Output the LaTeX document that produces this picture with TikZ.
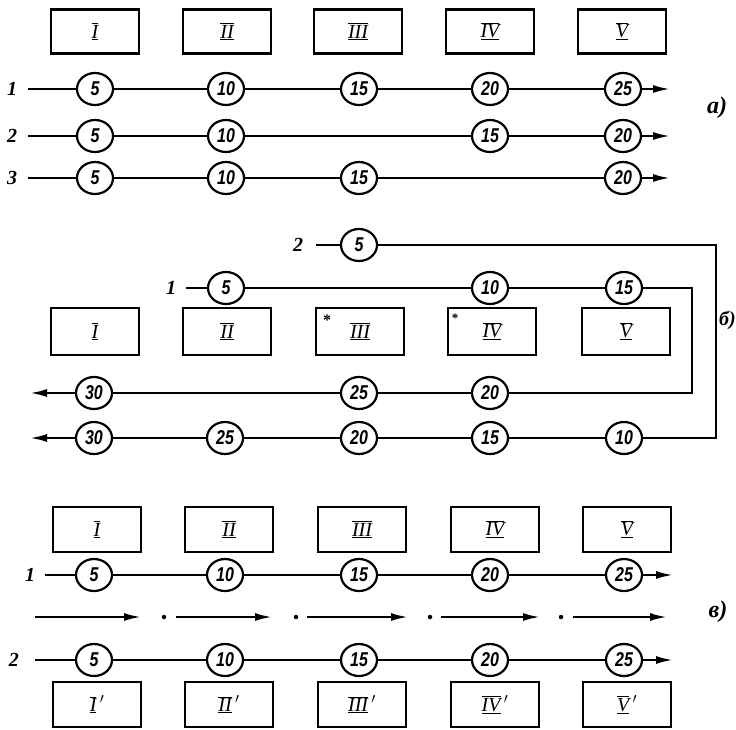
\documentclass[tikz,border=0pt]{standalone}
\usepackage{fontspec}
\setmainfont{Liberation Serif}
\newfontfamily\digfont{Liberation Sans}
\usetikzlibrary{arrows.meta,shapes.geometric}
\newcommand\rnum[1]{\fontsize{20}{20}\selectfont$\overline{\underline{\mbox{\itshape #1}}}$}
\newcommand\cnum[1]{\scalebox{0.8}[1]{\digfont\bfseries\itshape\fontsize{20}{20}\selectfont #1}}
\tikzset{
  rbox/.style={draw, line width=2.2pt, minimum width=88pt, minimum height=44pt, inner sep=0pt},
  cn/.style={ellipse, draw, line width=2.2pt, minimum width=36pt, minimum height=32pt, inner sep=0pt, fill=white},
  ln/.style={line width=2.2pt},
  arr/.style={-{Latex[length=17pt,width=8pt]}},
  lab/.style={font=\fontsize{20}{20}\selectfont\bfseries\itshape, inner sep=0pt},
  side/.style={font=\fontsize{24}{24}\selectfont\bfseries\itshape, inner sep=0pt},
  dotn/.style={circle, fill, minimum size=4.5pt, inner sep=0pt},
}
\begin{document}
\begin{tikzpicture}[x=1pt,y=-1pt]
\useasboundingbox (0,0) rectangle (736,729);
% ================= a) =================
\foreach \x/\t [count=\i] in {95/I,227/II,358/III,490/IV,622/V}
  \node[rbox] (aB\i) at (\x,31.5) {\rnum{\t}};
% row 1
\node[lab] (a1l) at (12,89) {1};
\coordinate (a1s) at (28,89);
\node[cn] (a1c1) at (95,89) {\cnum{5}};
\node[cn] (a1c2) at (226,89) {\cnum{10}};
\node[cn] (a1c3) at (359,89) {\cnum{15}};
\node[cn] (a1c4) at (490,89) {\cnum{20}};
\node[cn] (a1c5) at (623,89) {\cnum{25}};
\coordinate (a1e) at (670,89);
\draw[ln] (a1s) -- (a1c1) -- (a1c2) -- (a1c3) -- (a1c4) -- (a1c5);
\draw[ln,arr] (a1c5) -- (a1e);
% row 2
\node[lab] (a2l) at (12,136) {2};
\coordinate (a2s) at (28,136);
\node[cn] (a2c1) at (95,136) {\cnum{5}};
\node[cn] (a2c2) at (226,136) {\cnum{10}};
\node[cn] (a2c3) at (490,136) {\cnum{15}};
\node[cn] (a2c4) at (623,136) {\cnum{20}};
\coordinate (a2e) at (670,136);
\draw[ln] (a2s) -- (a2c1) -- (a2c2) -- (a2c3) -- (a2c4);
\draw[ln,arr] (a2c4) -- (a2e);
% row 3
\node[lab] (a3l) at (12,178) {3};
\coordinate (a3s) at (28,178);
\node[cn] (a3c1) at (95,178) {\cnum{5}};
\node[cn] (a3c2) at (226,178) {\cnum{10}};
\node[cn] (a3c3) at (359,178) {\cnum{15}};
\node[cn] (a3c4) at (623,178) {\cnum{20}};
\coordinate (a3e) at (670,178);
\draw[ln] (a3s) -- (a3c1) -- (a3c2) -- (a3c3) -- (a3c4);
\draw[ln,arr] (a3c4) -- (a3e);
\node[side] (sa) at (717,108) {а)};
% ================= b) =================
\node[rbox, minimum height=47pt] (bB1) at (95,331.5) {\rnum{I}};
\node[rbox, minimum height=47pt] (bB2) at (227,331.5) {\rnum{II}};
\node[rbox, minimum height=47pt] (bB3) at (360,331.5) {\rnum{III}};
\node[rbox, minimum height=47pt] (bB4) at (492,331.5) {\rnum{IV}};
\node[rbox, minimum height=47pt] (bB5) at (626,331.5) {\rnum{V}};
\node[font=\bfseries\fontsize{16}{16}\selectfont, inner sep=0pt] (st3) at (327,320) {*};
\node[font=\bfseries\fontsize{13}{13}\selectfont, inner sep=0pt] (st4) at (455,318) {*};
% line 2 (outer)
\node[lab] (b2l) at (298,245) {2};
\coordinate (b2s) at (316,245);
\node[cn] (b2c1) at (359,245) {\cnum{5}};
\coordinate (b2k1) at (716,245);
\coordinate (b2k2) at (716,438);
\node[cn] (b2r1) at (624,438) {\cnum{10}};
\node[cn] (b2r2) at (490,438) {\cnum{15}};
\node[cn] (b2r3) at (359,438) {\cnum{20}};
\node[cn] (b2r4) at (225,438) {\cnum{25}};
\node[cn] (b2r5) at (94,438) {\cnum{30}};
\coordinate (b2e) at (30,438);
\draw[ln] (b2s) -- (b2c1);
\draw[ln] (b2c1) -- (b2k1) -- (b2k2) -- (b2r1);
\draw[ln] (b2r1) -- (b2r2) -- (b2r3) -- (b2r4) -- (b2r5);
\draw[ln,arr] (b2r5) -- (b2e);
% line 1 (inner)
\node[lab] (b1l) at (171,288) {1};
\coordinate (b1s) at (186,288);
\node[cn] (b1c1) at (226,288) {\cnum{5}};
\node[cn] (b1c2) at (490,288) {\cnum{10}};
\node[cn] (b1c3) at (624,288) {\cnum{15}};
\coordinate (b1k1) at (692,288);
\coordinate (b1k2) at (692,393);
\node[cn] (b1r1) at (490,393) {\cnum{20}};
\node[cn] (b1r2) at (359,393) {\cnum{25}};
\node[cn] (b1r3) at (94,393) {\cnum{30}};
\coordinate (b1e) at (30,393);
\draw[ln] (b1s) -- (b1c1) -- (b1c2) -- (b1c3);
\draw[ln] (b1c3) -- (b1k1) -- (b1k2) -- (b1r1);
\draw[ln] (b1r1) -- (b1r2) -- (b1r3);
\draw[ln,arr] (b1r3) -- (b1e);
\node[side, anchor=east, font=\fontsize{20}{20}\selectfont\bfseries\itshape] (sb) at (736,320) {б)};
% ================= c) =================
\foreach \x/\t [count=\i] in {97/I,229/II,362/III,495/IV,627/V}
  \node[rbox, minimum height=45pt] (cB\i) at (\x,529.5) {\rnum{\t}};
\foreach \x/\t [count=\i] in {97/I,229/II,362/III,495/IV,627/V}
  \node[rbox, minimum height=45pt] (dB\i) at (\x,704.5) {\rnum{\t}\,\fontsize{20}{20}\selectfont\itshape$'$};
% row 1
\node[lab] (c1l) at (30,575) {1};
\coordinate (c1s) at (45,575);
\node[cn] (c1c1) at (94,575) {\cnum{5}};
\node[cn] (c1c2) at (225,575) {\cnum{10}};
\node[cn] (c1c3) at (359,575) {\cnum{15}};
\node[cn] (c1c4) at (490,575) {\cnum{20}};
\node[cn] (c1c5) at (624,575) {\cnum{25}};
\coordinate (c1e) at (673,575);
\draw[ln] (c1s) -- (c1c1) -- (c1c2) -- (c1c3) -- (c1c4) -- (c1c5);
\draw[ln,arr] (c1c5) -- (c1e);
% dash-dot flow line
\coordinate (f1a) at (35,617);  \coordinate (f1b) at (141,617);
\node[dotn] (fd1) at (164,617) {};
\coordinate (f2a) at (176,617); \coordinate (f2b) at (272,617);
\node[dotn] (fd2) at (296,617) {};
\coordinate (f3a) at (307,617); \coordinate (f3b) at (408,617);
\node[dotn] (fd3) at (430,617) {};
\coordinate (f4a) at (441,617); \coordinate (f4b) at (540,617);
\node[dotn] (fd4) at (561,617) {};
\coordinate (f5a) at (573,617); \coordinate (f5b) at (667,617);
\draw[ln,arr] (f1a) -- (f1b);
\draw[ln,arr] (f2a) -- (f2b);
\draw[ln,arr] (f3a) -- (f3b);
\draw[ln,arr] (f4a) -- (f4b);
\draw[ln,arr] (f5a) -- (f5b);
% row 2
\node[lab] (c2l) at (14,660) {2};
\coordinate (c2s) at (35,660);
\node[cn] (c2c1) at (94,660) {\cnum{5}};
\node[cn] (c2c2) at (225,660) {\cnum{10}};
\node[cn] (c2c3) at (359,660) {\cnum{15}};
\node[cn] (c2c4) at (490,660) {\cnum{20}};
\node[cn] (c2c5) at (624,660) {\cnum{25}};
\coordinate (c2e) at (673,660);
\draw[ln] (c2s) -- (c2c1) -- (c2c2) -- (c2c3) -- (c2c4) -- (c2c5);
\draw[ln,arr] (c2c5) -- (c2e);
\node[side] (sc) at (718,612) {в)};
\end{tikzpicture}
\end{document}
